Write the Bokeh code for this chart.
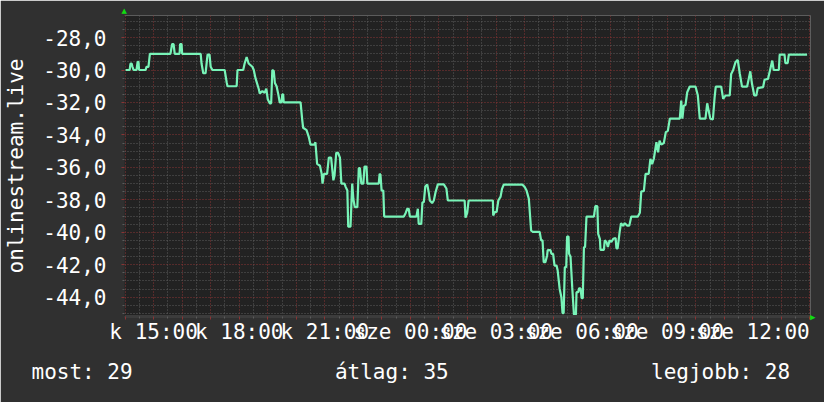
from bokeh.plotting import figure
from bokeh.models import Range1d, FixedTicker, ColumnDataSource, Title
from bokeh.embed import file_html
from bokeh.resources import INLINE

# ---- data (hours after Tuesday 14:00, values) ----
hours = [0.02, 0.16, 0.19, 0.23, 0.26, 0.30, 0.40, 0.44, 0.47, 0.49, 0.72, 0.75, 0.82, 0.87,
         1.59, 1.65, 1.70, 1.74, 1.91, 1.93, 1.98, 2.00, 2.65, 2.68, 2.74, 2.82, 2.89, 2.96,
         3.00, 3.06, 3.49, 3.56, 3.59, 3.91, 3.94, 4.14, 4.19, 4.26, 4.33, 4.46, 4.51, 4.57,
         4.69, 4.72, 4.81, 4.89, 4.95, 5.00, 5.07, 5.12, 5.16, 5.21, 5.25, 5.31, 5.37, 5.42,
         5.48, 5.51, 5.54, 5.56, 6.15, 6.21, 6.24, 6.36, 6.44, 6.50, 6.64, 6.67, 6.73, 6.83,
         6.89, 6.92, 6.97, 7.08, 7.14, 7.22, 7.30, 7.34, 7.40, 7.46, 7.53, 7.58, 7.69, 7.73,
         7.79, 7.82, 7.90, 7.96, 8.00, 8.05, 8.14, 8.19, 8.23, 8.28, 8.35, 8.39, 8.46, 8.49,
         8.89, 8.92, 8.95, 8.99, 9.05, 9.08, 9.77, 9.83, 9.89, 9.94, 9.98, 10.21, 10.26, 10.29,
         10.38, 10.42, 10.47, 10.52, 10.59, 10.64, 10.68, 10.76, 10.82, 10.88, 10.96, 11.17,
         11.26, 11.31, 11.90, 11.93, 11.99, 12.04, 12.89, 12.90, 12.96, 13.02, 13.08, 13.16,
         13.21, 13.27, 13.92, 14.00, 14.07, 14.15, 14.23, 14.30, 14.53, 14.58, 14.63, 14.67,
         14.73, 14.79, 14.81, 14.91, 14.94, 15.00, 15.05, 15.12, 15.16, 15.23, 15.29, 15.33,
         15.37, 15.41, 15.46, 15.49, 15.54, 15.56, 15.61, 15.67, 15.73, 15.80, 15.82, 15.88,
         15.91, 15.96, 16.00, 16.04, 16.08, 16.12, 16.17, 16.43, 16.48, 16.55, 16.58, 16.64,
         16.66, 16.78, 16.81, 16.87, 16.92, 16.98, 17.04, 17.11, 17.19, 17.22, 17.26, 17.33,
         17.38, 17.45, 17.51, 17.60, 17.67, 17.74, 17.97, 18.04, 18.09, 18.18, 18.24, 18.35,
         18.41, 18.47, 18.53, 18.62, 18.68, 18.73, 18.79, 18.88, 18.95, 19.02, 19.09, 19.44,
         19.49, 19.53, 19.58, 19.64, 19.70, 19.79, 19.99, 20.07, 20.14, 20.34, 20.40, 20.45,
         20.51, 20.60, 20.66, 20.70, 20.89, 20.96, 21.04, 21.19, 21.24, 21.31, 21.39, 21.47,
         21.54, 21.62, 21.80, 21.91, 21.97, 22.05, 22.12, 22.17, 22.36, 22.41, 22.53, 22.60,
         22.68, 22.73, 22.91, 22.94, 23.11, 23.14, 23.22, 23.26, 23.90]

values = [-30, -30, -29.6, -29.6, -29.8, -30, -30, -29.5, -29.5, -30, -30, -29.8, -29.8, -29,
          -29, -28.4, -28.4, -29, -29, -28.4, -28.4, -29, -29, -29.6, -30.2, -30.2, -29.05, -29.05,
          -29.8, -30, -30, -30.75, -31, -31, -30, -30, -29.6, -29.2, -29.6, -29.8, -30, -30.5,
          -31.2, -31.45, -31.3, -31.4, -31.15, -31.8, -32.05, -32.05, -30, -30.05, -30.8, -31, -31.5, -32,
          -32, -31.5, -31.5, -32, -32, -33.1, -33.56, -33.7, -34.14, -34.6, -34.6, -34.45, -35.78, -35.9,
          -36.4, -37.0, -36.4, -36.4, -35.4, -35.4, -36.8, -36.5, -35.1, -35.1, -35.4, -37.0, -37.0, -37.2,
          -37.43, -39.65, -39.65, -37.0, -37.95, -38.45, -38.45, -36.05, -36.05, -37, -37, -35.95, -35.95, -37,
          -37, -36.4, -36.45, -37.43, -37.43, -39.03, -39.03, -38.82, -38.55, -38.55, -39.03, -39.03, -38.55, -39.48,
          -39.48, -38.15, -38.15, -37.18, -37.05, -37.53, -38.04, -38.2, -38.04, -37.53, -37.05, -37.05,
          -37.3, -38.04, -38.04, -39.1, -38.8, -38.04, -38.04, -38.97, -38.75, -38.75, -38.04, -37.8,
          -37.32, -37.06, -37.06, -37.2, -37.43, -37.94, -39.9, -39.98, -39.98, -40.5, -40.5, -41.84,
          -41.84, -41.43, -41.1, -41.1, -41.33, -41.33, -42.05, -42.05, -42.36, -43.49, -44.0, -44.99,
          -44.99, -42.15, -42.15, -40.26, -40.26, -41.33, -41.5, -43.38, -45.07, -45.07, -43.69, -43.69,
          -43.45, -43.45, -44.06, -44.06, -40.92, -40.92, -39.03, -39.03, -38.39, -38.39, -40.1, -40.42,
          -41.08, -41.08, -40.49, -40.6, -40.9, -40.5, -40.6, -40.4, -40.35, -41.0, -41.0, -40.0,
          -39.44, -39.6, -39.44, -39.59, -39.59, -39.03, -39.03, -38.8, -37.47, -37.47, -36.4, -36.4,
          -35.47, -35.8, -35.47, -34.45, -35.07, -34.35, -34.6, -34.5, -33.83, -33.75, -33.0, -33.0,
          -31.88, -33.0, -32.2, -32.15, -31.37, -31.02, -31.02, -31.55, -33.0, -33.0, -32.05, -32.5,
          -33.0, -33.05, -31.68, -31.02, -31.02, -31.78, -31.57, -31.57, -30.24, -30.0, -29.52, -29.37,
          -30.2, -31.02, -31.02, -30.08, -30.85, -31.57, -31.57, -31.12, -31.05, -30.6, -30.55, -30.03,
          -29.42, -30.0, -30.0, -29.05, -29.05, -29.58, -29.58, -29.05, -29.05]

y_ticks = [-44, -42, -40, -38, -36, -34, -32, -30, -28]
y_tick_labels = ["-44,0", "-42,0", "-40,0", "-38,0", "-36,0", "-34,0", "-32,0", "-30,0", "-28,0"]
x_label_hours = [1, 4, 7, 10, 13, 16, 19, 22]
x_tick_labels = ["k 15:00", "k 18:00", "k 21:00", "sze 00:00", "sze 03:00",
                 "sze 06:00", "sze 09:00", "sze 12:00"]
y_axis_title = "onlinestream.live"
legend_texts = ["most: 29", "átlag: 35", "legjobb: 28"]

FONT = "DejaVu Sans Mono"
TXT = "#ffffff"
MAJOR = "#8a3434"
MINOR = "#5c5c5c"
ARROW = "#11dd11"

p = figure(width=824, height=402, output_backend="svg", toolbar_location=None,
           x_range=Range1d(-0.02, 24.02), y_range=Range1d(-45.19, -26.64),
           min_border_left=124, min_border_right=14, min_border_top=15, min_border_bottom=86,
           background_fill_color="#222222", border_fill_color="#303030",
           outline_line_color=None)

src = ColumnDataSource(dict(t=hours, v=values))
p.line("t", "v", source=src, line_color="#78f4b8", line_width=2.2)

# ticks / grids
hour_marks = list(range(0, 25))
half_marks = [h + 0.5 for h in range(0, 24)]
y_minor = [y / 2 for y in range(-90, -52) if y % 4 != 0]

p.yaxis.ticker = FixedTicker(ticks=y_ticks, minor_ticks=y_minor)
p.yaxis.major_label_overrides = dict(zip(y_ticks, y_tick_labels))
p.xaxis.ticker = FixedTicker(ticks=hour_marks, minor_ticks=half_marks)
xl = {h: "" for h in hour_marks}
xl.update(dict(zip(x_label_hours, x_tick_labels)))
p.xaxis.major_label_overrides = xl

p.ygrid.ticker = FixedTicker(ticks=y_ticks, minor_ticks=y_minor)
p.xgrid.ticker = FixedTicker(ticks=hour_marks, minor_ticks=half_marks)
for g in (p.xgrid, p.ygrid):
    g.grid_line_color = MAJOR
    g.grid_line_dash = "1 2"
    g.grid_line_width = 1
    g.minor_grid_line_color = MINOR
    g.minor_grid_line_dash = "1 2"
    g.minor_grid_line_width = 1

for ax in (p.xaxis, p.yaxis):
    ax.major_tick_line_color = MAJOR
    ax.major_tick_in = 0
    ax.major_tick_out = 3
    ax.minor_tick_line_color = MINOR
    ax.minor_tick_in = 0
    ax.minor_tick_out = 2
    ax.major_label_text_font = FONT
    ax.major_label_text_font_size = "21px"
    ax.major_label_text_color = TXT
p.xaxis.axis_line_color = "#3c3c3c"
p.xaxis.axis_line_width = 3
p.yaxis.axis_line_color = "#2a2a2a"
p.yaxis.axis_line_width = 1
p.xaxis.major_label_standoff = 0
p.yaxis.major_label_standoff = 15

# y axis title
p.yaxis.axis_label = y_axis_title
p.yaxis.axis_label_text_font = FONT
p.yaxis.axis_label_text_font_size = "21px"
p.yaxis.axis_label_text_font_style = "normal"
p.yaxis.axis_label_text_color = TXT
p.yaxis.axis_label_standoff = 12

# legend line under the chart (monospace, fixed columns)
gap = "\u00a0" * 16
legend_line = legend_texts[0] + gap + legend_texts[1] + gap + legend_texts[2]
p.add_layout(Title(text=legend_line, align="left", offset=-93, standoff=22,
                   text_font=FONT, text_font_size="21px", text_font_style="normal",
                   text_color=TXT), "below")

# axis arrows (top of y axis, end of x axis)
p.add_layout(Title(text="▲", align="left", offset=-3, standoff=2,
                   text_font="DejaVu Sans", text_font_size="7px", text_font_style="normal",
                   text_color=ARROW), "above")
p.add_layout(Title(text="▲", align="right", offset=-4, standoff=-3,
                   text_font="DejaVu Sans", text_font_size="7px", text_font_style="normal",
                   text_color=ARROW), "right")

open("out.html", "w").write(file_html(p, INLINE))
